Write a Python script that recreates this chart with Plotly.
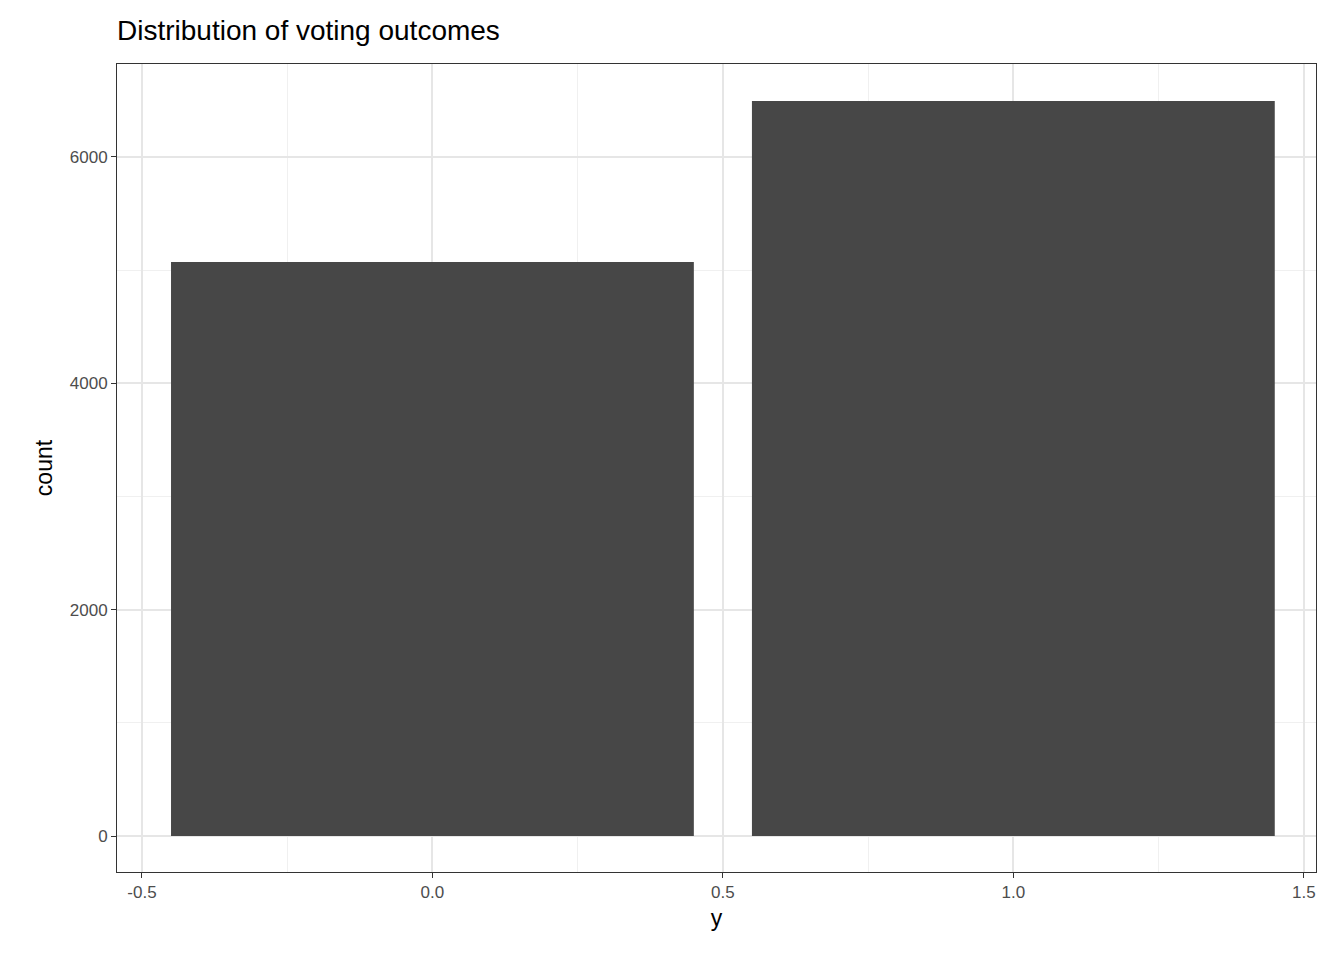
import plotly.graph_objects as go

# voting outcome counts
outcomes = [0, 1]
counts = [5071, 6493]

x_ticks = [-0.5, 0.0, 0.5, 1.0, 1.5]
x_labels = ['-0.5', '0.0', '0.5', '1.0', '1.5']
y_ticks = [0, 2000, 4000, 6000]
y_labels = ['0', '2000', '4000', '6000']

fig = go.Figure(go.Bar(x=outcomes, y=counts, width=0.9,
                       marker_color='#474747', marker_line_width=0))

axis_style = dict(showline=True, linecolor='#333333', linewidth=1, mirror=True,
                  ticks='outside', ticklen=5, tickcolor='#333333',
                  tickfont=dict(size=17, color='#4d4d4d'),
                  gridcolor='#e6e6e6', gridwidth=2, zeroline=False,
                  title_font=dict(size=23, color='black'))

fig.update_layout(
    width=1344, height=960,
    paper_bgcolor='white', plot_bgcolor='white',
    font=dict(family='Liberation Sans, Arial, sans-serif'),
    margin=dict(l=109, r=36, t=56, b=96),
    title=dict(text='Distribution of voting outcomes', x=109/1344, xanchor='left',
               y=1 - 22/960, yanchor='middle', font=dict(size=28, color='black')),
    bargap=0.1,
    showlegend=False,
)
fig.update_xaxes(title_text='y', range=[-0.543, 1.521],
                 tickvals=x_ticks, ticktext=x_labels, title_standoff=8,
                 minor=dict(tickvals=[-0.25, 0.25, 0.75, 1.25], showgrid=True,
                            gridcolor='#f0f0f0', gridwidth=1),
                 **axis_style)
fig.update_yaxes(title_text='count', range=[-318, 6820],
                 tickvals=y_ticks, ticktext=y_labels, title_standoff=10,
                 minor=dict(tickvals=[1000, 3000, 5000], showgrid=True,
                            gridcolor='#f0f0f0', gridwidth=1),
                 **axis_style)

fig.write_html("out.html")
